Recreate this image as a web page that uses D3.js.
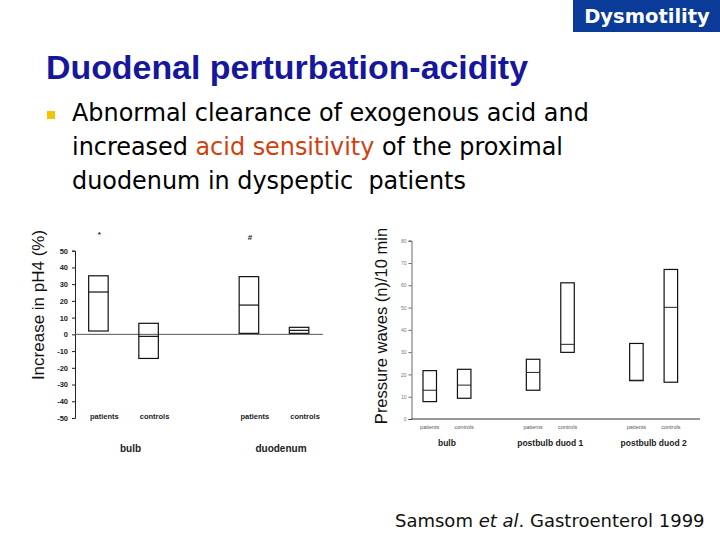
<!DOCTYPE html>
<html>
<head>
    <meta charset="utf-8">
    <script src="https://d3js.org/d3.v7.min.js"></script>
    <style>
        body { margin: 0; background: #ffffff; }
    </style>
    <title>Duodenal perturbation-acidity</title>
</head>
<body>
    <svg id="slide" width="720" height="540"></svg>
    <script>
        // left panel: increase in pH4 (%)
        var leftGroups = ["bulb", "duodenum"];
        var subjects = ["patients", "controls"];
        var leftTicks = [50, 40, 30, 20, 10, 0, -10, -20, -30, -40, -50];
        var leftTop = [35, 6.6, 34.5, 4.2];
        var leftMedian = [25.3, -1.2, 17.5, 2.4];
        var leftBottom = [2, -14.4, 0.6, 0.6];
        var leftMarkers = ["*", "#"];

        // right panel: pressure waves per 10 min
        var rightGroups = ["bulb", "postbulb duod 1", "postbulb duod 2"];
        var rightTicks = [0, 10, 20, 30, 40, 50, 60, 70, 80];
        var rightTop = [21.7, 22.3, 26.8, 61.1, 33.9, 67.1];
        var rightMedian = [12.9, 15.2, 20.9, 33.5, 17.4, 50.1];
        var rightBottom = [7.8, 9.3, 12.9, 29.9, 17.2, 16.5];

        var svg = d3.select("#slide");

        // header
        svg.append("rect")
            .attr("x", 573).attr("y", 0)
            .attr("width", 147).attr("height", 32)
            .style("fill", "#0b3b98");
        svg.append("text")
            .attr("x", 647).attr("y", 23)
            .attr("text-anchor", "middle")
            .style("font-family", "DejaVu Sans")
            .style("font-weight", "bold")
            .style("font-size", "19.5px")
            .style("fill", "#ffffff")
            .text("Dysmotility");

        svg.append("text")
            .attr("x", 46).attr("y", 79)
            .attr("textLength", 482)
            .attr("lengthAdjust", "spacingAndGlyphs")
            .style("font-family", "Liberation Sans")
            .style("font-weight", "bold")
            .style("font-size", "33px")
            .style("fill", "#17179c")
            .text("Duodenal perturbation-acidity");

        svg.append("rect")
            .attr("x", 47).attr("y", 111)
            .attr("width", 8).attr("height", 8)
            .style("fill", "#f5c400");

        var bodyLines = [
            [["Abnormal clearance of exogenous acid and", "#000"]],
            [["increased ", "#000"], ["acid sensitivity", "#d2400e"], [" of the proximal", "#000"]],
            [["duodenum in dyspeptic\u00a0 patients", "#000"]]
        ];
        bodyLines.forEach(function (line, i) {
            var t = svg.append("text")
                .attr("x", 72).attr("y", 121 + i * 34)
                .style("font-family", "DejaVu Sans")
                .style("font-size", "23.9px");
            line.forEach(function (part) {
                t.append("tspan").style("fill", part[1]).text(part[0]);
            });
        });

        // ---------- left chart ----------
        var yL = d3.scaleLinear().domain([-50, 50]).range([418, 250.7]);
        var gxL = d3.scaleBand().domain(leftGroups).range([48.25, 349.25]);
        var sxL = d3.scalePoint().domain(subjects).range([0, gxL.bandwidth()]).padding(1);
        var boxWL = 19.5;

        var left = svg.append("g");
        var leftData = [];
        leftGroups.forEach(function (g, gi) {
            subjects.forEach(function (s, si) {
                var k = gi * 2 + si;
                leftData.push({ g: g, s: s, top: leftTop[k], med: leftMedian[k], bot: leftBottom[k] });
            });
        });

        left.append("g")
            .attr("transform", "translate(75,0)")
            .call(d3.axisLeft(yL).tickValues(leftTicks).tickSize(3).tickPadding(4)
                .tickFormat(function (d) { return String(d); }))
            .call(function (a) {
                a.selectAll("path,line").style("stroke", "#222").style("stroke-width", "1px");
                a.selectAll("text")
                    .style("font-family", "Liberation Sans")
                    .style("font-weight", "bold")
                    .style("font-size", "7.5px")
                    .style("fill", "#222");
            });

        left.append("line")
            .attr("x1", 75).attr("x2", 323)
            .attr("y1", yL(0)).attr("y2", yL(0))
            .style("stroke", "#555").style("stroke-width", "1px");

        left.selectAll("rect.box")
            .data(leftData)
            .enter()
            .append("rect")
            .attr("class", "box")
            .attr("x", function (d) { return gxL(d.g) + sxL(d.s) - boxWL / 2; })
            .attr("y", function (d) { return yL(d.top); })
            .attr("width", boxWL)
            .attr("height", function (d) { return yL(d.bot) - yL(d.top); })
            .style("fill", "none")
            .style("stroke", "#111")
            .style("stroke-width", "1.2px");

        left.selectAll("line.med")
            .data(leftData)
            .enter()
            .append("line")
            .attr("class", "med")
            .attr("x1", function (d) { return gxL(d.g) + sxL(d.s) - boxWL / 2; })
            .attr("x2", function (d) { return gxL(d.g) + sxL(d.s) + boxWL / 2; })
            .attr("y1", function (d) { return yL(d.med); })
            .attr("y2", function (d) { return yL(d.med); })
            .style("stroke", "#111")
            .style("stroke-width", "1.2px");

        left.selectAll("text.cat")
            .data(leftData)
            .enter()
            .append("text")
            .attr("class", "cat")
            .attr("x", function (d) { return gxL(d.g) + sxL(d.s) + 6; })
            .attr("y", 419)
            .attr("text-anchor", "middle")
            .style("font-family", "Liberation Sans")
            .style("font-weight", "bold")
            .style("font-size", "7.5px")
            .style("fill", "#222")
            .text(function (d) { return d.s; });

        left.selectAll("text.grp")
            .data(leftGroups)
            .enter()
            .append("text")
            .attr("class", "grp")
            .attr("x", function (d) { return gxL(d) + gxL.bandwidth() / 2 + 7; })
            .attr("y", 452)
            .attr("text-anchor", "middle")
            .style("font-family", "Liberation Sans")
            .style("font-weight", "bold")
            .style("font-size", "10px")
            .style("fill", "#222")
            .text(function (d) { return d; });

        left.selectAll("text.mark")
            .data(leftGroups)
            .enter()
            .append("text")
            .attr("class", "mark")
            .attr("x", function (d) { return gxL(d) + sxL("patients") + 1; })
            .attr("y", function (d, i) { return i === 0 ? 237 : 240; })
            .attr("text-anchor", "middle")
            .style("font-family", "Liberation Sans")
            .style("font-weight", "bold")
            .style("font-size", "8px")
            .style("fill", "#222")
            .text(function (d, i) { return leftMarkers[i]; });

        svg.append("text")
            .attr("transform", "translate(44,305) rotate(-90)")
            .attr("text-anchor", "middle")
            .style("font-family", "Liberation Sans")
            .style("font-size", "17px")
            .style("fill", "#111")
            .text("Increase in pH4 (%)");

        // ---------- right chart ----------
        var yR = d3.scaleLinear().domain([0, 80]).range([419, 240.7]);
        var gxR = d3.scaleBand().domain(rightGroups).range([395.3, 705.3]);
        var sxR = d3.scalePoint().domain(subjects).range([0, gxR.bandwidth()]).padding(1);
        var boxWR = 13.5;

        var right = svg.append("g");
        var rightData = [];
        rightGroups.forEach(function (g, gi) {
            subjects.forEach(function (s, si) {
                var k = gi * 2 + si;
                rightData.push({ g: g, s: s, top: rightTop[k], med: rightMedian[k], bot: rightBottom[k] });
            });
        });

        right.append("g")
            .attr("transform", "translate(411.5,0)")
            .call(d3.axisLeft(yR).tickValues(rightTicks).tickSize(3).tickPadding(2))
            .call(function (a) {
                a.selectAll("path,line").style("stroke", "#444").style("stroke-width", "0.8px");
                a.selectAll("text")
                    .style("font-family", "Liberation Sans")
                    .style("font-size", "5px")
                    .style("fill", "#777");
            });

        right.append("line")
            .attr("x1", 411.5).attr("x2", 700)
            .attr("y1", yR(0)).attr("y2", yR(0))
            .style("stroke", "#333").style("stroke-width", "1.2px");

        right.selectAll("rect.box")
            .data(rightData)
            .enter()
            .append("rect")
            .attr("class", "box")
            .attr("x", function (d) { return gxR(d.g) + sxR(d.s) - boxWR / 2; })
            .attr("y", function (d) { return yR(d.top); })
            .attr("width", boxWR)
            .attr("height", function (d) { return yR(d.bot) - yR(d.top); })
            .style("fill", "none")
            .style("stroke", "#111")
            .style("stroke-width", "1.2px");

        right.selectAll("line.med")
            .data(rightData)
            .enter()
            .append("line")
            .attr("class", "med")
            .attr("x1", function (d) { return gxR(d.g) + sxR(d.s) - boxWR / 2; })
            .attr("x2", function (d) { return gxR(d.g) + sxR(d.s) + boxWR / 2; })
            .attr("y1", function (d) { return yR(d.med); })
            .attr("y2", function (d) { return yR(d.med); })
            .style("stroke", "#222")
            .style("stroke-width", "1px");

        right.selectAll("text.cat")
            .data(rightData)
            .enter()
            .append("text")
            .attr("class", "cat")
            .attr("x", function (d) { return gxR(d.g) + sxR(d.s); })
            .attr("y", 429)
            .attr("text-anchor", "middle")
            .style("font-family", "Liberation Sans")
            .style("font-size", "5.5px")
            .style("fill", "#555")
            .text(function (d) { return d.s; });

        right.selectAll("text.grp")
            .data(rightGroups)
            .enter()
            .append("text")
            .attr("class", "grp")
            .attr("x", function (d) { return gxR(d) + gxR.bandwidth() / 2; })
            .attr("y", 446)
            .attr("text-anchor", "middle")
            .style("font-family", "Liberation Sans")
            .style("font-weight", "bold")
            .style("font-size", "8.5px")
            .style("fill", "#222")
            .text(function (d) { return d; });

        svg.append("text")
            .attr("transform", "translate(387,326) rotate(-90)")
            .attr("text-anchor", "middle")
            .style("font-family", "Liberation Sans")
            .style("font-size", "16.5px")
            .style("fill", "#111")
            .text("Pressure waves (n)/10 min");

        // citation
        var cite = svg.append("text")
            .attr("x", 395).attr("y", 527)
            .style("font-family", "DejaVu Sans")
            .style("font-size", "18px")
            .style("fill", "#111");
        cite.append("tspan").text("Samsom ");
        cite.append("tspan").style("font-style", "italic").text("et al");
        cite.append("tspan").text(". Gastroenterol 1999");
    </script>
</body>
</html>
